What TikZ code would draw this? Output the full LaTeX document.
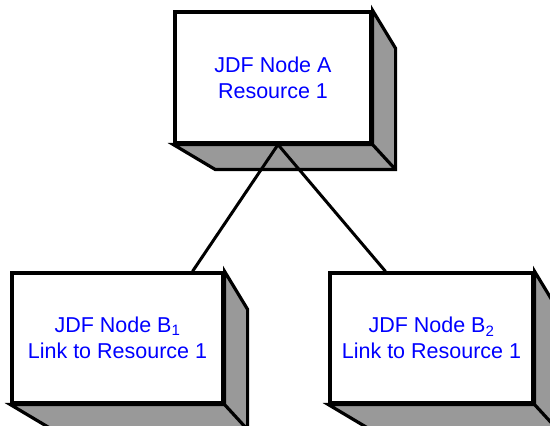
\documentclass[tikz,border=0pt]{standalone}
\usepackage{fontspec}
\setmainfont{Liberation Sans}
\usetikzlibrary{calc, backgrounds}
\definecolor{jdfblue}{HTML}{0000FF}
\definecolor{jdfgray}{HTML}{999999}

\begin{document}
\begin{tikzpicture}[x=1pt,y=1pt,
    jdfnode/.style={draw, line width=3.2pt, fill=white, text=jdfblue, align=center, inner sep=0pt,
      minimum height=130pt, font=\fontsize{21.5}{26}\selectfont},
    jdfdepth/.style={draw, line width=3.2pt, fill=jdfgray},
    link/.style={line width=3pt}]
    \useasboundingbox (0,0) rectangle (550,426);
    \node[jdfnode,minimum width=196pt,minimum height=131pt] (nodeA) at (273,348.5) {JDF Node A\\Resource 1};
    \node[jdfnode,minimum width=211pt] (nodeB1) at (117.5,88) {JDF Node B\textsubscript{1}\\Link to Resource 1};
    \node[jdfnode,minimum width=203pt] (nodeB2) at (431.5,88) {JDF Node B\textsubscript{2}\\Link to Resource 1};
    \begin{scope}[on background layer]
      \foreach \n in {nodeA,nodeB1,nodeB2} {
        \draw[jdfdepth] (\n.south west) -- ++(42,-25) -- ($(\n.south east)+(23,-25)$)
          -- ($(\n.north east)+(23,-38)$) -- (\n.north east) -- (\n.south east) -- cycle;
        \draw[jdfdepth] (\n.south east) -- ++(23,-25);
      }
    \end{scope}
    \draw[link] ([xshift=5pt]nodeA.south) -- ([xshift=75pt]nodeB1.north);
    \draw[link] ([xshift=5pt]nodeA.south) -- ([xshift=-46pt]nodeB2.north);
\end{tikzpicture}
\end{document}
